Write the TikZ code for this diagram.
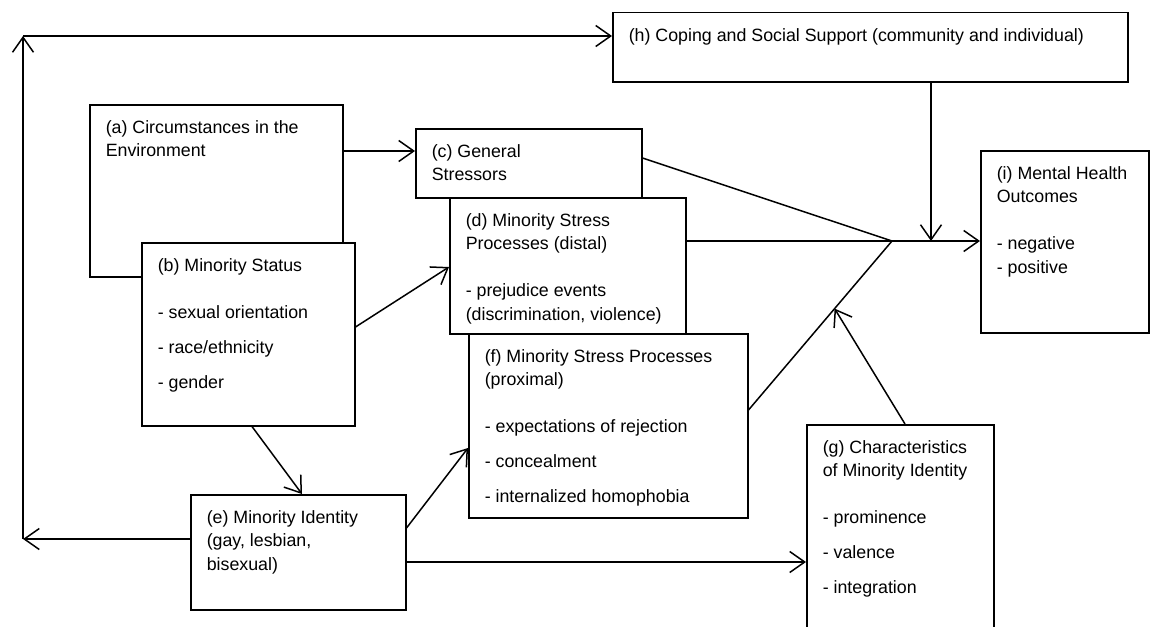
\documentclass[tikz,border=0pt]{standalone}
\usepackage{fontspec}
\setmainfont{Liberation Sans}
\usetikzlibrary{arrows.meta,calc}
\newcommand{\boxtext}[3]{\parbox[t][#2pt][t]{#1pt}{\raggedright\strut #3}}
\begin{document}
\begin{tikzpicture}[x=1pt,y=-1pt,line width=1.5pt,
  blk/.style={draw,fill=white,anchor=north west,inner xsep=16pt,inner ysep=12pt,font=\fontsize{17.8}{23.5}\selectfont},
  arr/.style={-{Straight Barb[length=15pt,width=21pt]}}]
\useasboundingbox (0,0) rectangle (1150,626);
% boxes, the later ones drawn over the earlier ones
\node[blk] (a) at (89,104) {\boxtext{221}{148}{(a) Circumstances in the\\Environment}};
\node[blk] (b) at (141,242) {\boxtext{181}{159}{(b) Minority Status\\[23.5pt]- sexual orientation\\[11.5pt]- race/ethnicity\\[11.5pt]- gender}};
\node[blk] (c) at (415,128) {\boxtext{194}{45}{(c) General\\Stressors}};
\node[blk] (d) at (449,197) {\boxtext{204}{112}{(d) Minority Stress\\Processes (distal)\\[23.5pt]- prejudice events\\(discrimination,~violence)}};
\node[blk] (f) at (468,333) {\boxtext{247}{160}{(f)~Minority~Stress~Processes\\(proximal)\\[23.5pt]- expectations of rejection\\[11.5pt]- concealment\\[11.5pt]- internalized homophobia}};
\node[blk] (e) at (190,494) {\boxtext{183}{91}{(e) Minority Identity\\(gay, lesbian,\\bisexual)}};
\node[blk] (g) at (806,424) {\boxtext{155}{184}{(g)~Characteristics\\of~Minority~Identity\\[23.5pt]- prominence\\[11.5pt]- valence\\[11.5pt]- integration}};
\node[blk] (h) at (612,12) {\boxtext{483}{45}{(h) Coping and Social Support (community and individual)}};
\node[blk] (i) at (980,150) {\boxtext{136}{158}{(i)~Mental~Health\\Outcomes\\[23.5pt]- negative\\- positive}};
\coordinate (jn) at (892,241);
\coordinate (lb) at (23,539);
\coordinate (lt) at (23,36);
% arrows
\draw[arr] ([yshift=-47pt]a.north east) -- ([yshift=-23pt]c.north west);
\draw[arr] ([yshift=-85pt]b.north east) -- ([yshift=-70pt]d.north west);
\draw[arr] ([xshift=111pt]b.south west) -- ([xshift=112pt]e.north west);
\draw[arr] ([yshift=-34pt]e.north east) -- ([yshift=-115pt]f.north west);
\draw[arr] ([yshift=-68pt]e.north east) -- ([yshift=-138pt]g.north west);
\draw[arr] ([yshift=-45pt]e.north west) -- (lb);
\draw[arr] (lb) -- (lt);
\draw[arr] (lt) -- ([yshift=-24pt]h.north west);
\draw ([yshift=-30pt]c.north east) -- (jn);
\draw ([yshift=-44pt]d.north east) -- (jn);
\draw ([yshift=-77pt]f.north east) coordinate (fo) -- (jn);
\draw[arr] (jn) -- (jn -| i.west);
\draw[arr] ([xshift=319pt]h.south west) coordinate (ho) -- (ho |- jn);
\draw[arr] ([xshift=99pt]g.north west) -- ($(fo)!.6!(jn)$);
\end{tikzpicture}
\end{document}
